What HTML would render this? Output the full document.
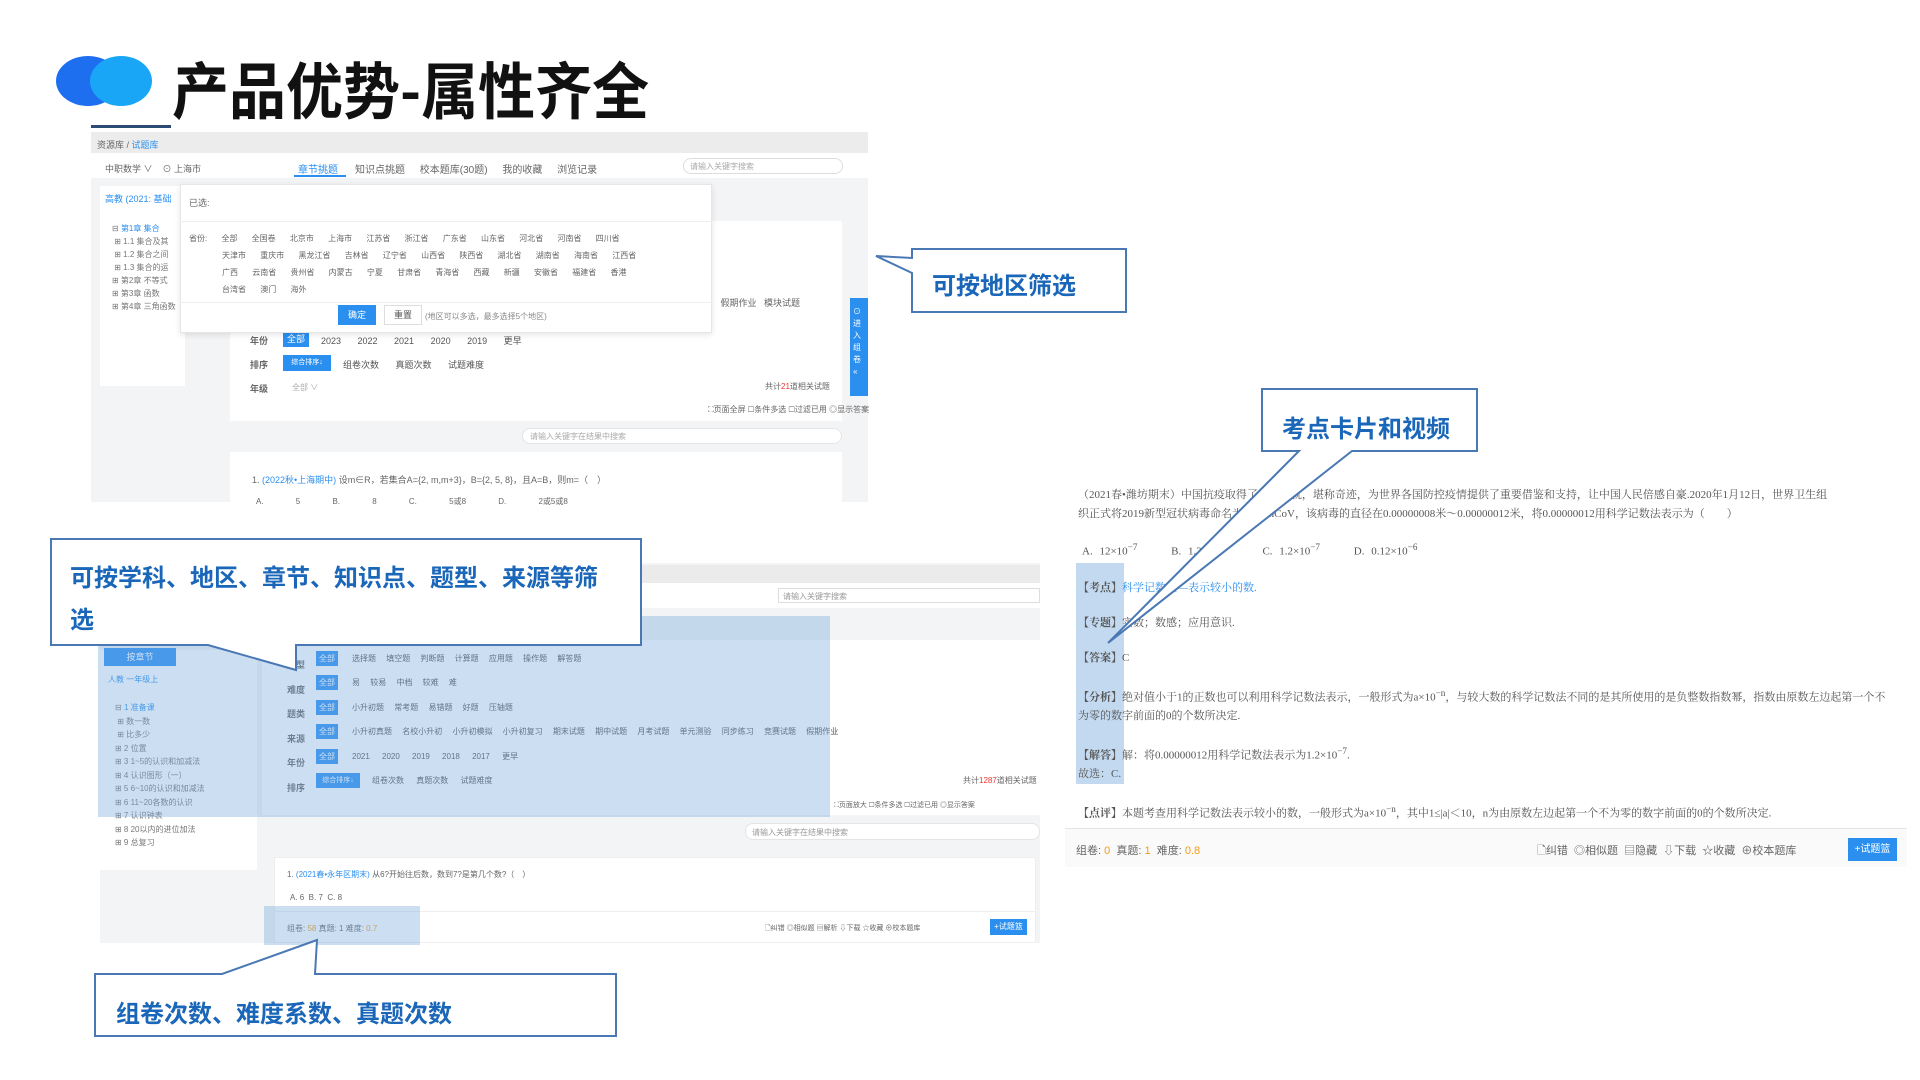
<!DOCTYPE html>
<html><head><meta charset="utf-8">
<style>
*{margin:0;padding:0;box-sizing:border-box}
body{width:1920px;height:1080px;position:relative;background:#fff;overflow:hidden;font-family:"Liberation Sans","Noto Sans CJK SC",sans-serif;color:#555}
.a{position:absolute}
.t{position:absolute;font-size:10px;color:#666;white-space:nowrap}
.btn{position:absolute;background:#2b8ff0;color:#fff;font-size:9px;text-align:center}
.row{position:absolute;font-size:10px;color:#555;white-space:nowrap;word-spacing:14px}
.rt{position:absolute;left:1078px;font-size:11px;color:#555;white-space:nowrap;font-family:"Liberation Serif","Noto Serif CJK SC",serif}
</style></head><body>
<!-- logo -->
<div class="a" style="left:56px;top:56px;width:64px;height:50px;border-radius:50%;background:#1d6ff0"></div>
<div class="a" style="left:90px;top:56px;width:62px;height:50px;border-radius:50%;background:#19a6f7"></div>
<div class="a" style="left:172px;top:50px;font-size:57px;font-weight:bold;color:#111;font-family:'Noto Sans CJK SC',sans-serif;line-height:70px;transform:scaleY(1.08);transform-origin:top left">产品优势-属性齐全</div>
<div class="a" style="left:91px;top:125px;width:80px;height:3px;background:#2a4b73"></div>

<!-- screenshot 1 -->
<div class="a" style="left:91px;top:132px;width:777px;height:370px;background:#f3f4f6"></div>
<div class="a" style="left:91px;top:132px;width:777px;height:21px;background:#ececec"></div>
<div class="t" style="left:97px;top:138px;font-size:9px">资源库 / <span style="color:#2b8ff0">试题库</span></div>
<div class="a" style="left:91px;top:153px;width:777px;height:25px;background:#fff"></div>
<div class="t" style="left:105px;top:162px;font-size:9px">中职数学 ∨ &nbsp;&nbsp; ⊙ 上海市</div>
<div class="t" style="left:298px;top:161px;color:#2b8ff0">章节挑题</div>
<div class="a" style="left:294px;top:175px;width:52px;height:2px;background:#2b8ff0"></div>
<div class="t" style="left:355px;top:161px;word-spacing:12px">知识点挑题 校本题库(30题) 我的收藏 浏览记录</div>
<div class="a" style="left:683px;top:158px;width:160px;height:16px;border:1px solid #ddd;border-radius:8px"></div>
<div class="t" style="left:690px;top:161px;font-size:8px;color:#aaa">请输入关键字搜索</div>
<div class="a" style="left:100px;top:186px;width:85px;height:200px;background:#fff"></div>
<div class="t" style="left:105px;top:192px;color:#2b8ff0;font-size:9px">高教 (2021: 基础</div>
<div class="t" style="left:112px;top:222px;font-size:8px;line-height:13px;color:#777">⊟ <span style="color:#2b8ff0">第1章 集合</span><br>&nbsp;⊞ 1.1 集合及其<br>&nbsp;⊞ 1.2 集合之间<br>&nbsp;⊞ 1.3 集合的运<br>⊞ 第2章 不等式<br>⊞ 第3章 函数<br>⊞ 第4章 三角函数</div>
<div class="a" style="left:230px;top:221px;width:612px;height:200px;background:#fff"></div>
<div class="t" style="left:695px;top:296px;font-size:9px">练习 &nbsp; 假期作业 &nbsp; 模块试题</div>
<div class="t" style="left:250px;top:334px;font-weight:bold;font-size:9px">年份</div>
<div class="btn" style="left:283px;top:332px;width:26px;height:15px;line-height:15px">全部</div>
<div class="row" style="left:321px;top:334px;font-size:9px">2023 2022 2021 2020 2019 更早</div>
<div class="t" style="left:250px;top:358px;font-weight:bold;font-size:9px">排序</div>
<div class="btn" style="left:283px;top:355px;width:48px;height:16px;line-height:16px;font-size:7px">综合排序↓</div>
<div class="row" style="left:343px;top:358px;font-size:9px">组卷次数 真题次数 试题难度</div>
<div class="t" style="left:250px;top:382px;font-weight:bold;font-size:9px">年级</div>
<div class="t" style="left:292px;top:382px;font-size:8px;color:#aaa">全部 ∨</div>
<div class="t" style="left:765px;top:381px;font-size:8px">共计<span style="color:#e33">21</span>道相关试题</div>
<div class="t" style="left:708px;top:404px;font-size:8px">⛶页面全屏 ☐条件多选 ☐过滤已用 ◎显示答案</div>
<div class="a" style="left:522px;top:428px;width:320px;height:16px;background:#fff;border:1px solid #e4e4e4;border-radius:8px"></div>
<div class="t" style="left:530px;top:431px;font-size:8px;color:#aaa">请输入关键字在结果中搜索</div>
<div class="a" style="left:230px;top:452px;width:612px;height:50px;background:#fff"></div>
<div class="t" style="left:252px;top:473px;font-size:9px">1. <span style="color:#2b8ff0">(2022秋•上海期中)</span> 设m∈R，若集合A={2, m,m+3}，B={2, 5, 8}，且A=B，则m=（　）</div>
<div class="t" style="left:256px;top:496px;font-size:8px;word-spacing:30px">A. 5 B. 8 C. 5或8 D. 2或5或8</div>
<div class="a" style="left:850px;top:298px;width:18px;height:98px;background:#2b8ff0"></div>
<div class="t" style="left:853px;top:306px;color:#fff;font-size:8px;line-height:12px;width:10px;white-space:normal">⊙ 进 入 组 卷 «</div>
<!-- popup -->
<div class="a" style="left:180px;top:184px;width:532px;height:149px;background:#fff;border:1px solid #e6e6e6;box-shadow:0 2px 6px rgba(0,0,0,.1)"></div>
<div class="t" style="left:189px;top:196px;font-size:9px">已选:</div>
<div class="a" style="left:180px;top:221px;width:532px;height:1px;background:#eee"></div>
<div class="t" style="left:189px;top:230px;font-size:8px;line-height:17px;word-spacing:12px">省份: 全部 全国卷 北京市 上海市 江苏省 浙江省 广东省 山东省 河北省 河南省 四川省</div>
<div class="t" style="left:222px;top:247px;font-size:8px;line-height:17px;word-spacing:12px">天津市 重庆市 黑龙江省 吉林省 辽宁省 山西省 陕西省 湖北省 湖南省 海南省 江西省<br>广西 云南省 贵州省 内蒙古 宁夏 甘肃省 青海省 西藏 新疆 安徽省 福建省 香港<br>台湾省 澳门 海外</div>
<div class="a" style="left:180px;top:302px;width:532px;height:1px;background:#eee"></div>
<div class="btn" style="left:338px;top:305px;width:38px;height:20px;line-height:20px">确定</div>
<div class="a" style="left:384px;top:305px;width:38px;height:20px;border:1px solid #ddd;font-size:9px;text-align:center;line-height:18px">重置</div>
<div class="t" style="left:425px;top:311px;font-size:8px;color:#888">(地区可以多选，最多选择5个地区)</div>

<!-- callout 1 -->
<svg class="a" style="left:870px;top:245px" width="265" height="75"><path d="M42 4 H256 V67 H42 V28 L6 11 L42 13 Z" fill="#fff" stroke="#4a78b4" stroke-width="2"/></svg>
<div class="a" style="left:932px;top:266px;font-size:24px;font-weight:bold;color:#1a66b8">可按地区筛选</div>

<!-- screenshot 2 -->
<div class="a" style="left:100px;top:563px;width:940px;height:380px;background:#f3f4f6"></div>
<div class="a" style="left:640px;top:565px;width:400px;height:18px;background:#ebebeb"></div>
<div class="a" style="left:640px;top:583px;width:400px;height:25px;background:#fff"></div>
<div class="a" style="left:778px;top:588px;width:262px;height:15px;border:1px solid #ddd;background:#fff"></div>
<div class="t" style="left:783px;top:591px;font-size:8px;color:#999">请输入关键字搜索</div>
<div class="a" style="left:262px;top:640px;width:778px;height:175px;background:#fff"></div>
<div class="a" style="left:100px;top:650px;width:157px;height:220px;background:#fff"></div>
<div class="btn" style="left:104px;top:648px;width:72px;height:18px;line-height:18px">按章节</div>
<div class="t" style="left:108px;top:674px;font-size:8px;color:#2b8ff0">人教 一年级上</div>
<div class="t" style="left:115px;top:701px;font-size:8px;line-height:13.5px;color:#777">⊟ <span style="color:#2b8ff0">1 准备课</span><br>&nbsp;⊞ 数一数<br>&nbsp;⊞ 比多少<br>⊞ 2 位置<br>⊞ 3 1~5的认识和加减法<br>⊞ 4 认识图形（一）<br>⊞ 5 6~10的认识和加减法<br>⊞ 6 11~20各数的认识<br>⊞ 7 认识钟表<br>⊞ 8 20以内的进位加法<br>⊞ 9 总复习</div>
<div class="t" style="left:287px;top:653px;font-weight:bold;font-size:9px;line-height:24.5px">题型<br>难度<br>题类<br>来源<br>年份<br>排序</div>
<div class="btn" style="left:316px;top:651px;width:22px;height:15px;line-height:15px;font-size:8px">全部</div>
<div class="btn" style="left:316px;top:675px;width:22px;height:15px;line-height:15px;font-size:8px">全部</div>
<div class="btn" style="left:316px;top:700px;width:22px;height:15px;line-height:15px;font-size:8px">全部</div>
<div class="btn" style="left:316px;top:724px;width:22px;height:15px;line-height:15px;font-size:8px">全部</div>
<div class="btn" style="left:316px;top:749px;width:22px;height:15px;line-height:15px;font-size:8px">全部</div>
<div class="btn" style="left:316px;top:773px;width:44px;height:15px;line-height:15px;font-size:7px">综合排序↓</div>
<div class="row" style="left:352px;top:653px;font-size:8px;word-spacing:8px">选择题 填空题 判断题 计算题 应用题 操作题 解答题</div>
<div class="row" style="left:352px;top:677px;font-size:8px;word-spacing:8px">易 较易 中档 较难 难</div>
<div class="row" style="left:352px;top:702px;font-size:8px;word-spacing:8px">小升初题 常考题 易错题 好题 压轴题</div>
<div class="row" style="left:352px;top:726px;font-size:8px;word-spacing:8px">小升初真题 名校小升初 小升初模拟 小升初复习 期末试题 期中试题 月考试题 单元测验 同步练习 竞赛试题 假期作业</div>
<div class="row" style="left:352px;top:751px;font-size:8px;word-spacing:10px">2021 2020 2019 2018 2017 更早</div>
<div class="row" style="left:372px;top:775px;font-size:8px;word-spacing:10px">组卷次数 真题次数 试题难度</div>
<div class="t" style="left:963px;top:775px;font-size:8px">共计<span style="color:#e33">1287</span>道相关试题</div>
<div class="t" style="left:834px;top:800px;font-size:7px">⛶页面放大 ☐条件多选 ☐过滤已用 ◎显示答案</div>
<div class="a" style="left:745px;top:823px;width:295px;height:17px;background:#fff;border:1px solid #e4e4e4;border-radius:8px"></div>
<div class="t" style="left:752px;top:827px;font-size:8px;color:#999">请输入关键字在结果中搜索</div>
<div class="a" style="left:274px;top:857px;width:762px;height:86px;background:#fff;border:1px solid #eee"></div>
<div class="t" style="left:287px;top:869px;font-size:8px">1. <span style="color:#2b8ff0">(2021春•永年区期末)</span> 从6?开始往后数，数到7?是第几个数?（　）</div>
<div class="t" style="left:290px;top:893px;font-size:8px">A. 6 &nbsp;B. 7 &nbsp;C. 8</div>
<div class="a" style="left:274px;top:911px;width:762px;height:1px;background:#eee"></div>
<div class="t" style="left:287px;top:923px;font-size:8px">组卷: <span style="color:#f39c12">58</span> 真题: 1 难度: <span style="color:#f39c12">0.7</span></div>
<div class="t" style="left:765px;top:923px;font-size:7px">🗋纠错 ◎相似题 ▤解析 ⇩下载 ☆收藏 ⊕校本题库</div>
<div class="btn" style="left:990px;top:919px;width:37px;height:16px;line-height:16px;font-size:8px">+试题篮</div>
<!-- blue overlays -->
<div class="a" style="left:98px;top:616px;width:732px;height:201px;background:rgba(120,170,220,.38)"></div>
<div class="a" style="left:264px;top:906px;width:156px;height:39px;background:rgba(120,170,220,.38)"></div>

<!-- callout 2 -->
<svg class="a" style="left:48px;top:536px" width="600" height="140"><path d="M3 3 H593 V109 H248 V134 L160 109 H3 Z" fill="#fff" stroke="#4a78b4" stroke-width="2"/></svg>
<div class="a" style="left:70px;top:558px;font-size:24px;font-weight:bold;color:#1a66b8;line-height:42px;width:560px">可按学科、地区、章节、知识点、题型、来源等筛<br>选</div>

<!-- callout 3 -->
<svg class="a" style="left:92px;top:936px" width="530" height="106"><path d="M3 38 H130 L225 4 L223 38 H524 V100 H3 Z" fill="#fff" stroke="#4a78b4" stroke-width="2"/></svg>
<div class="a" style="left:116px;top:994px;font-size:24px;font-weight:bold;color:#1a66b8">组卷次数、难度系数、真题次数</div>

<!-- right screenshot -->
<div class="a" style="left:1076px;top:563px;width:48px;height:221px;background:rgba(120,170,220,.45)"></div>
<div class="rt" style="top:486px">（2021春•潍坊期末）中国抗疫取得了重大成就，堪称奇迹，为世界各国防控疫情提供了重要借鉴和支持，让中国人民倍感自豪.2020年1月12日，世界卫生组</div>
<div class="rt" style="top:505px">织正式将2019新型冠状病毒命名为2019-nCoV，该病毒的直径在0.00000008米～0.00000012米，将0.00000012用科学记数法表示为（　　）</div>
<div class="rt" style="top:542px;left:1082px;word-spacing:4px">A. 12×10<sup>−7</sup> &nbsp;&nbsp;&nbsp; B. 1.2×10<sup>−6</sup> &nbsp;&nbsp;&nbsp; C. 1.2×10<sup>−7</sup> &nbsp;&nbsp;&nbsp; D. 0.12×10<sup>−6</sup></div>
<div class="rt" style="top:579px"><b>【考点】</b><span style="color:#2b8ff0">科学记数法—表示较小的数.</span></div>
<div class="rt" style="top:614px"><b>【专题】</b>实数；数感；应用意识.</div>
<div class="rt" style="top:649px"><b>【答案】</b>C</div>
<div class="rt" style="top:688px"><b>【分析】</b>绝对值小于1的正数也可以利用科学记数法表示，一般形式为a×10<sup>−n</sup>，与较大数的科学记数法不同的是其所使用的是负整数指数幂，指数由原数左边起第一个不</div>
<div class="rt" style="top:707px">为零的数字前面的0的个数所决定.</div>
<div class="rt" style="top:746px"><b>【解答】</b>解：将0.00000012用科学记数法表示为1.2×10<sup>−7</sup>.</div>
<div class="rt" style="top:765px">故选：C.</div>
<div class="rt" style="top:804px"><b>【点评】</b>本题考查用科学记数法表示较小的数，一般形式为a×10<sup>−n</sup>，其中1≤|a|＜10，n为由原数左边起第一个不为零的数字前面的0的个数所决定.</div>
<div class="a" style="left:1065px;top:828px;width:842px;height:1px;background:#e5e5e5"></div>
<div class="a" style="left:1065px;top:829px;width:842px;height:38px;background:#fafafa"></div>
<div class="t" style="left:1076px;top:842px;font-size:11px">组卷: <span style="color:#f39c12">0</span> &nbsp;真题: <span style="color:#f39c12">1</span> &nbsp;难度: <span style="color:#f39c12">0.8</span></div>
<div class="t" style="left:1537px;top:842px;font-size:11px">🗋纠错 &nbsp;◎相似题 &nbsp;▤隐藏 &nbsp;⇩下载 &nbsp;☆收藏 &nbsp;⊕校本题库</div>
<div class="btn" style="left:1848px;top:838px;width:49px;height:23px;line-height:23px;font-size:10px">+试题篮</div>

<!-- callout 4 -->
<svg class="a" style="left:1100px;top:385px" width="385" height="265"><path d="M162 4 H377 V66 H252 L8 258 L199 66 H162 Z" fill="#fff" stroke="#4a78b4" stroke-width="2"/></svg>
<div class="a" style="left:1282px;top:409px;font-size:24px;font-weight:bold;color:#1a66b8">考点卡片和视频</div>
</body></html>
